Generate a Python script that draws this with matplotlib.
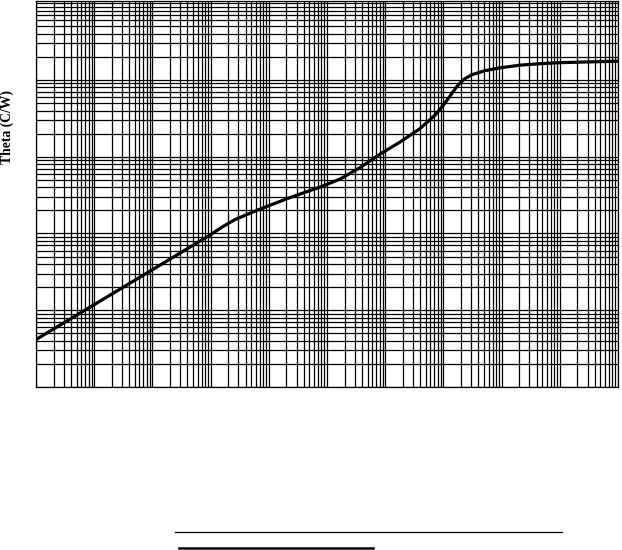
import numpy as np
import matplotlib
matplotlib.use('Agg')
import matplotlib.pyplot as plt
from matplotlib.ticker import LogLocator, NullFormatter
from matplotlib.lines import Line2D

# Curva de impedancia térmica transitoria
tiempo = [1.00e-6, 3.84e-6, 1.26e-5, 4.12e-5, 1.35e-4, 4.43e-4, 9.77e-4,
          1.57e-3, 2.62e-3, 7.06e-3, 2.31e-2, 7.59e-2, 0.167, 0.369,
          0.815, 1.79, 3.96, 7.18, 10.6, 14.1, 17.8, 22.6, 31.0, 51.9,
          94.0, 207, 457, 1007, 3304, 10000]
theta = [0.004154, 0.007658, 0.01314, 0.02254, 0.03866, 0.06651, 0.09532,
         0.1211, 0.1517, 0.2078, 0.2934, 0.4019, 0.5109, 0.7211,
         1.081, 1.549, 2.322, 3.481, 4.988, 6.732, 8.556, 10.24, 11.72, 13.22,
         14.38, 15.59, 16.30, 16.80, 17.21, 17.57]

X_LIM = (1e-6, 1e4)
Y_LIM = (1e-3, 10 ** (2 + 2.2 / 76.8))

W, H = 622, 550
fig = plt.figure(figsize=(W / 100, H / 100), dpi=100)
ax = fig.add_axes([36 / W, 1 - 387 / H, (618 - 36) / W, (387 - 1) / H])

ax.plot(tiempo, theta, color='black', linewidth=2.3, zorder=3,
        solid_joinstyle='round')

ax.set_xscale('log')
ax.set_yscale('log')
ax.set_xlim(*X_LIM)
ax.set_ylim(*Y_LIM)

for axis in (ax.xaxis, ax.yaxis):
    axis.set_major_locator(LogLocator(base=10, numticks=100))
    axis.set_minor_locator(LogLocator(base=10, subs=np.arange(2, 10), numticks=100))
    axis.set_major_formatter(NullFormatter())
    axis.set_minor_formatter(NullFormatter())

ax.tick_params(which='both', length=0)
ax.grid(which='both', color='black', linewidth=0.9)
for s in ax.spines.values():
    s.set_color('black')
    s.set_linewidth(0.9)

fig.text(7 / W, 1 - 127 / H, 'Theta (C/W)', rotation=90, ha='center', va='center',
         fontsize=9.8, fontweight='bold', family='Liberation Serif')

# trazos sueltos bajo el gráfico
fig.add_artist(Line2D([175 / W, 562 / W], [1 - 532.3 / H] * 2,
                      color='black', linewidth=0.9))
fig.add_artist(Line2D([179 / W, 373 / W], [1 - 548 / H] * 2,
                      color='black', linewidth=1.8))

fig.savefig('out.png', dpi=100, facecolor='white')
